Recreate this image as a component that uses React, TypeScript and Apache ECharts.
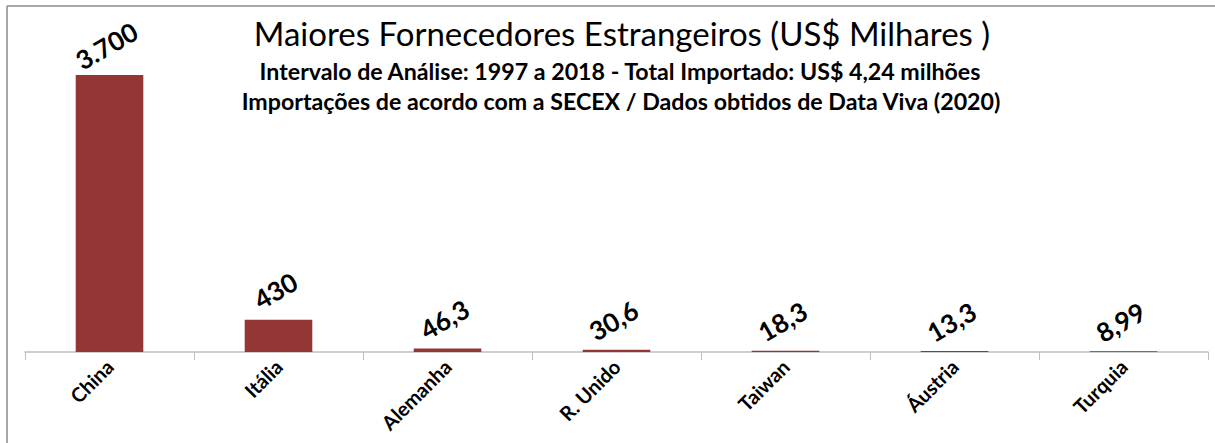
import React, { useEffect, useRef } from "react";
import * as echarts from "echarts";

const categories = ["China", "Itália", "Alemanha", "R. Unido", "Taiwan", "Áustria", "Turquia"];
const values = [3700, 430, 46.3, 30.6, 18.3, 13.3, 8.99];
const valueLabels = ["3.700", "430", "46,3", "30,6", "18,3", "13,3", "8,99"];
const titleText = "Maiores Fornecedores Estrangeiros (US$ Milhares )";
const subtitleLines = [
  "Intervalo de Análise: 1997 a 2018 - Total Importado: US$ 4,24 milhões",
  "Importações de acordo com a SECEX / Dados obtidos de Data Viva (2020)",
];

const FONT = "Lato, 'Open Sans', sans-serif";

export default function App() {
  const ref = useRef<HTMLDivElement>(null);
  useEffect(() => {
    if (!ref.current) return;
    const chart = echarts.init(ref.current, null, { renderer: "svg" });
    chart.setOption({
      animation: false,
      backgroundColor: "#ffffff",
      graphic: [
        { type: "line", shape: { x1: 7, y1: 6, x2: 1215, y2: 6 }, style: { stroke: "#8c8c8c", lineWidth: 1.5 } },
        { type: "line", shape: { x1: 7, y1: 6, x2: 7, y2: 443 }, style: { stroke: "#8c8c8c", lineWidth: 1.5 } },
        {
          type: "text",
          x: 622,
          y: 33,
          style: {
            text: titleText,
            align: "center",
            verticalAlign: "middle",
            fontFamily: FONT,
            fontSize: 33,
            fontWeight: "normal",
            fill: "#000",
          },
        },
        {
          type: "text",
          x: 620,
          y: 71,
          style: {
            text: subtitleLines[0],
            align: "center",
            verticalAlign: "middle",
            fontFamily: FONT,
            fontSize: 23.2,
            fontWeight: "bold",
            fill: "#000",
          },
        },
        {
          type: "text",
          x: 621,
          y: 101,
          style: {
            text: subtitleLines[1],
            align: "center",
            verticalAlign: "middle",
            fontFamily: FONT,
            fontSize: 23.2,
            fontWeight: "bold",
            fill: "#000",
          },
        },
      ],
      grid: { left: 25, right: 7, top: 75, bottom: 91, containLabel: false },
      xAxis: {
        type: "category",
        data: categories,
        axisLine: { lineStyle: { color: "#bfbfbf", width: 1.5 } },
        axisTick: { show: true, length: 8, lineStyle: { color: "#bfbfbf" } },
        axisLabel: {
          rotate: 45,
          interval: 0,
          fontFamily: FONT,
          fontSize: 20,
          fontWeight: "bold",
          color: "#000",
          margin: 11,
        },
      },
      yAxis: { type: "value", min: 0, max: 3700, show: false, splitLine: { show: false } },
      series: [
        {
          type: "bar",
          data: values,
          barWidth: "40%",
          itemStyle: { color: "#943634" },
          label: {
            show: true,
            position: "top",
            distance: 16,
            rotate: 30,
            offset: [4, 0],
            fontFamily: FONT,
            fontSize: 26,
            fontWeight: "bold",
            color: "#000",
            formatter: (p: any) => valueLabels[p.dataIndex],
          },
        },
      ],
    });
    return () => chart.dispose();
  }, []);
  return (
    <div
      ref={ref}
      style={{ position: "fixed", left: 0, top: 0, width: 1215, height: 443, background: "#fff" }}
    />
  );
}
